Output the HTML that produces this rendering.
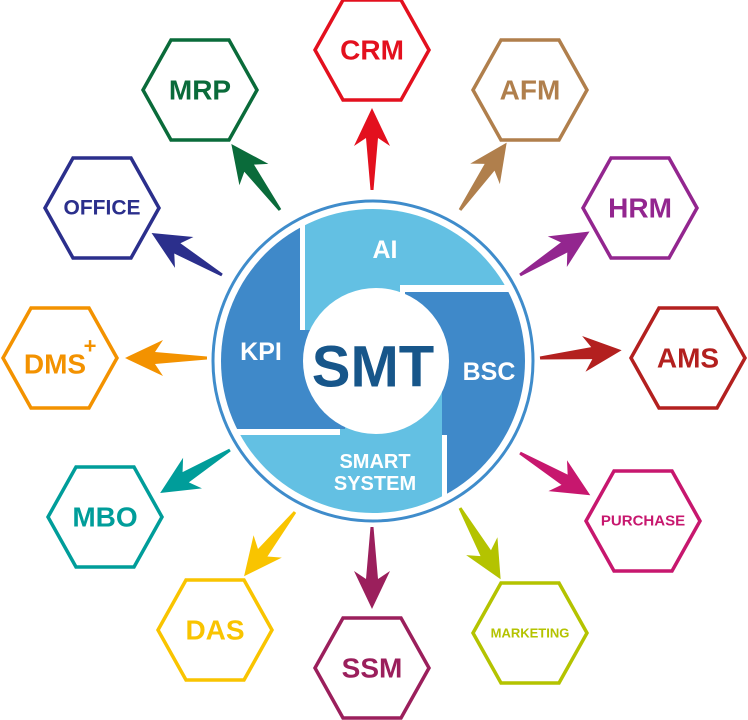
<!DOCTYPE html>
<html><head><meta charset="utf-8"><style>
html,body{margin:0;padding:0;background:#fff;}
svg{display:block;}
text{font-family:"Liberation Sans",sans-serif;font-weight:bold;text-anchor:middle;dominant-baseline:central;}
</style></head><body>
<svg width="748" height="720" viewBox="0 0 748 720" xmlns="http://www.w3.org/2000/svg">
<defs>
<clipPath id="c"><circle cx="373" cy="361" r="152"/></clipPath>
<polygon id="hx" points="-57,0 -29,-50 29,-50 57,0 29,50 -29,50" fill="none" stroke-width="3.5"/>
<polygon id="ar" points="0,-1.5 52,-6 44,-18 82,0 44,18 52,6 0,1.5"/>
</defs>
<circle cx="373" cy="361" r="160" fill="#fff" stroke="#3f8ccb" stroke-width="3"/>
<g clip-path="url(#c)">
<rect x="305" y="150" width="300" height="135" fill="#63c0e3"/>
<rect x="305" y="285" width="95" height="45" fill="#63c0e3"/>
<rect x="447" y="292" width="150" height="300" fill="#3f89c9"/>
<rect x="405" y="292" width="42" height="143" fill="#3f89c9"/>
<rect x="150" y="435" width="292" height="150" fill="#63c0e3"/>
<rect x="340" y="390" width="102" height="45" fill="#63c0e3"/>
<rect x="150" y="150" width="150" height="279" fill="#3f89c9"/>
<rect x="300" y="330" width="45" height="99" fill="#3f89c9"/>
</g>
<circle cx="376" cy="361" r="73" fill="#fff"/>
<text x="385" y="250" font-size="25" fill="#fff">AI</text>
<text x="261" y="352" font-size="25" fill="#fff">KPI</text>
<text x="489" y="372" font-size="25" fill="#fff">BSC</text>
<text x="375" y="462" font-size="20" fill="#fff">SMART</text>
<text x="375" y="484" font-size="20" fill="#fff">SYSTEM</text>
<text x="373" y="367" font-size="58" fill="#17568a">SMT</text>
<use href="#ar" fill="#e3101e" transform="translate(372,190) rotate(-90)"/>
<use href="#ar" fill="#0a6b3a" transform="translate(280,210) rotate(-126.4)"/>
<use href="#ar" fill="#b07f4c" transform="translate(460,210) rotate(-55.3)"/>
<use href="#ar" fill="#2b2f8c" transform="translate(222,275) rotate(-149.2)"/>
<use href="#ar" fill="#93268f" transform="translate(520,275) rotate(-32)"/>
<use href="#ar" fill="#f39200" transform="translate(207,358) rotate(180)"/>
<use href="#ar" fill="#b3201f" transform="translate(540,358) rotate(-5.4)"/>
<use href="#ar" fill="#009d9a" transform="translate(230,450) rotate(148.4)"/>
<use href="#ar" fill="#c7176e" transform="translate(520,453) rotate(31)"/>
<use href="#ar" fill="#f9c400" transform="translate(295,512) rotate(128.4)"/>
<use href="#ar" fill="#b4c300" transform="translate(460,508) rotate(60.3)"/>
<use href="#ar" fill="#9b1f5c" transform="translate(372,527) rotate(90)"/>
<g transform="translate(372,50)"><use href="#hx" stroke="#e3101e"/><text font-size="28" fill="#e3101e">CRM</text></g>
<g transform="translate(200,90)"><use href="#hx" stroke="#0a6b3a"/><text font-size="28" fill="#0a6b3a">MRP</text></g>
<g transform="translate(530,90)"><use href="#hx" stroke="#b07f4c"/><text font-size="28" fill="#b07f4c">AFM</text></g>
<g transform="translate(102,208)"><use href="#hx" stroke="#2b2f8c"/><text font-size="21" fill="#2b2f8c">OFFICE</text></g>
<g transform="translate(640,208)"><use href="#hx" stroke="#93268f"/><text font-size="28" fill="#93268f">HRM</text></g>
<g transform="translate(60,358)"><use href="#hx" stroke="#f39200"/><text x="-5" y="6" font-size="28" fill="#f39200">DMS</text><text x="30" y="-12" font-size="22" fill="#f39200">+</text></g>
<g transform="translate(688,358)"><use href="#hx" stroke="#b3201f"/><text font-size="28" fill="#b3201f">AMS</text></g>
<g transform="translate(105,517)"><use href="#hx" stroke="#009d9a"/><text font-size="28" fill="#009d9a">MBO</text></g>
<g transform="translate(643,521)"><use href="#hx" stroke="#c7176e"/><text font-size="15" fill="#c7176e">PURCHASE</text></g>
<g transform="translate(215,630)"><use href="#hx" stroke="#f9c400"/><text font-size="28" fill="#f9c400">DAS</text></g>
<g transform="translate(530,633)"><use href="#hx" stroke="#b4c300"/><text font-size="13" fill="#b4c300">MARKETING</text></g>
<g transform="translate(372,668)"><use href="#hx" stroke="#9b1f5c"/><text font-size="28" fill="#9b1f5c">SSM</text></g>
</svg>
</body></html>
